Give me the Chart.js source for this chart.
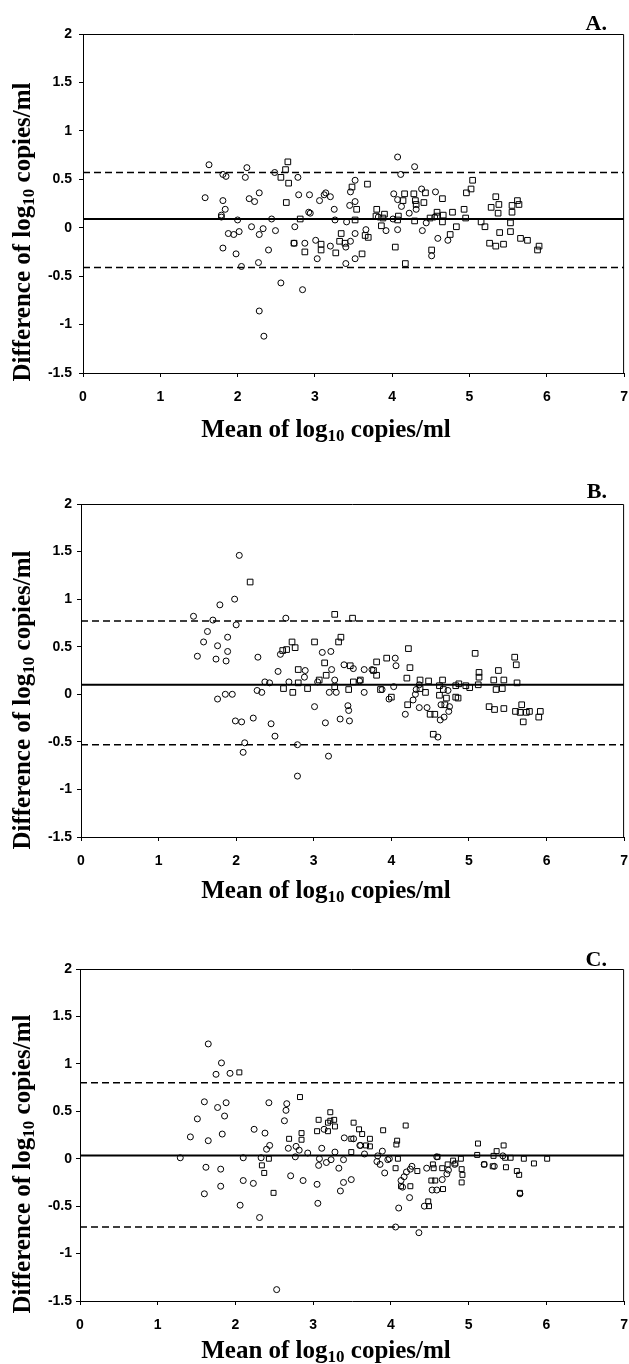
<!DOCTYPE html>
<html>
<head>
<meta charset="utf-8">
<script src="https://cdn.jsdelivr.net/npm/chart.js@4.4.1/dist/chart.umd.min.js"></script>
<style>
  html, body { margin: 0; padding: 0; background: #fff; overflow: hidden; }
  body { width: 629px; height: 1364px; position: relative; }
  canvas { position: absolute; left: 0; }
  .t { position: absolute; font-family: "Liberation Serif", "Times New Roman", serif; font-weight: bold; color: #000; white-space: nowrap; line-height: 1; }
  .xt { font-size: 25px; left: 326px; transform: translateX(-50%); }
  .yt { font-size: 25px; left: 21px; transform: translate(-50%, -50%) rotate(-90deg); }
  .pl { font-size: 22px; right: 22px; }
  sub { font-size: 0.68em; vertical-align: -0.25em; line-height: 0; }
</style>
</head>
<body>
<canvas id="pa"></canvas>
<canvas id="pb"></canvas>
<canvas id="pc"></canvas>

<div class="t pl" style="top:12px">A.</div>
<div class="t pl" style="top:480px">B.</div>
<div class="t pl" style="top:948px">C.</div>

<div class="t yt" style="top:232px">Difference of log<sub>10</sub> copies/ml</div>
<div class="t yt" style="top:700px">Difference of log<sub>10</sub> copies/ml</div>
<div class="t yt" style="top:1164px">Difference of log<sub>10</sub> copies/ml</div>

<div class="t xt" style="top:416px">Mean of log<sub>10</sub> copies/ml</div>
<div class="t xt" style="top:877px">Mean of log<sub>10</sub> copies/ml</div>
<div class="t xt" style="top:1337px">Mean of log<sub>10</sub> copies/ml</div>

<script>
// Tick labels shared by the three Bland-Altman panels.
const xTicks = [0, 1, 2, 3, 4, 5, 6, 7];
const yTicks = [-1.5, -1, -0.5, 0, 0.5, 1, 1.5, 2];

// Panel A: [mean, difference] pairs, circles and squares.
const aCircles = [
  [1.63,0.65],[1.81,0.55],[1.85,0.53],[2.12,0.62],[2.10,0.52],[2.48,0.57],[2.78,0.52],
  [1.58,0.31],[1.81,0.28],[1.84,0.19],[1.79,0.13],[1.79,0.11],[2.15,0.30],[2.22,0.27],[2.28,0.36],
  [2.79,0.34],[2.93,0.34],[2.92,0.16],[2.94,0.15],[3.06,0.28],[3.12,0.34],[3.14,0.36],[3.20,0.32],[3.25,0.19],[3.26,0.08],
  [2.00,0.08],[2.44,0.09],[2.74,0.01],[2.18,0.01],[2.33,-0.01],[2.49,-0.03],[1.88,-0.06],[1.95,-0.07],[2.02,-0.04],[2.28,-0.07],
  [1.81,-0.21],[1.98,-0.27],[2.40,-0.23],[2.05,-0.40],[2.27,-0.36],[2.73,-0.16],[2.87,-0.16],[3.01,-0.13],[3.03,-0.32],[3.20,-0.19],
  [3.40,-0.20],[3.46,-0.14],[3.40,-0.37],[3.52,-0.32],[3.52,-0.06],[3.41,0.06],[3.45,0.23],[3.52,0.27],[3.52,0.49],[3.46,0.37],
  [2.56,-0.57],[2.84,-0.64],[2.28,-0.86],[2.34,-1.12],
  [4.07,0.73],[4.29,0.63],[4.11,0.55],[4.02,0.35],[4.07,0.29],[4.12,0.22],[4.38,0.40],[4.56,0.37],[4.22,0.15],[4.31,0.19],
  [3.82,0.11],[3.92,-0.03],[4.01,0.09],[4.07,-0.02],[4.39,-0.03],[4.44,0.05],[4.55,0.11],[4.72,-0.13],[4.59,-0.11],[4.51,-0.29],[3.66,-0.02]
];
const aSquares = [
  [2.65,0.68],[2.62,0.60],[2.56,0.52],[2.66,0.46],[2.63,0.26],[2.81,0.09],[2.73,-0.16],[2.87,-0.25],[3.08,-0.17],[3.08,-0.23],
  [3.27,-0.26],[3.34,-0.06],[3.32,-0.14],[3.39,-0.16],[3.48,0.42],[3.54,0.19],[3.52,0.08],
  [3.68,0.45],[4.16,0.35],[4.14,0.28],[4.28,0.35],[4.30,0.28],[4.31,0.24],[4.41,0.26],[4.43,0.36],[4.65,0.30],[3.80,0.19],
  [3.79,0.12],[3.88,0.10],[3.90,0.14],[3.86,0.02],[4.08,0.12],[4.07,0.08],[4.29,0.07],[4.49,0.10],[4.58,0.16],[4.58,0.12],
  [4.66,0.13],[4.65,0.06],[4.78,0.16],[4.93,0.19],[4.95,0.10],[4.96,0.36],[5.02,0.40],[5.04,0.49],[4.83,0.01],[4.75,-0.07],
  [4.51,-0.23],[4.04,-0.20],[4.17,-0.37],[3.69,-0.10],[3.61,-0.27],[3.65,-0.08],[5.15,0.06],[5.20,0.01],[5.34,0.32],[5.38,0.24],
  [5.28,0.21],[5.37,0.15],[5.55,0.23],[5.62,0.28],[5.64,0.24],[5.55,0.16],[5.53,0.05],[5.53,-0.04],[5.39,-0.05],[5.26,-0.16],
  [5.34,-0.19],[5.44,-0.17],[5.66,-0.11],[5.75,-0.13],[5.90,-0.19],[5.88,-0.23]
];
const aLimits = [0.57, 0.09, -0.41]; // upper limit, mean difference, lower limit

// Panel B
const bCircles = [
  [2.04,1.46],[1.98,1.00],[1.79,0.94],[1.45,0.82],[1.70,0.78],[2.00,0.73],[2.64,0.80],[1.63,0.66],[1.58,0.55],[1.76,0.51],
  [1.89,0.60],[1.89,0.45],[1.50,0.40],[1.74,0.37],[1.87,0.35],[2.28,0.39],[2.57,0.42],[3.11,0.44],[3.22,0.45],[3.23,0.26],
  [2.89,0.25],[2.88,0.18],[2.54,0.24],[3.39,0.31],[3.51,0.27],[3.27,0.15],[2.37,0.13],[2.43,0.12],[2.68,0.13],[3.05,0.13],
  [3.20,0.02],[3.29,0.02],[1.76,-0.05],[1.86,0.00],[1.95,0.00],[2.27,0.04],[2.33,0.02],[3.01,-0.13],[3.44,-0.12],[3.45,-0.17],
  [1.99,-0.28],[2.07,-0.29],[2.22,-0.25],[2.45,-0.31],[3.15,-0.30],[3.34,-0.26],[3.46,-0.28],[2.50,-0.44],[2.11,-0.51],[2.09,-0.61],
  [2.79,-0.53],[3.19,-0.65],[2.79,-0.86],
  [4.05,0.38],[4.06,0.30],[3.65,0.26],[3.75,0.26],[3.59,0.14],[3.65,0.02],[3.88,0.05],[4.03,0.08],[3.97,-0.05],[4.36,0.10],
  [4.32,0.05],[4.31,0.00],[4.28,-0.06],[4.18,-0.21],[4.36,-0.14],[4.46,-0.14],[4.73,0.04],[4.64,-0.11],[4.75,-0.13],[4.74,-0.18],
  [4.68,-0.24],[4.63,-0.27],[4.60,-0.45]
];
const bSquares = [
  [2.18,1.18],[3.27,0.84],[3.50,0.80],[2.72,0.55],[2.76,0.49],[2.65,0.47],[2.60,0.46],[3.01,0.55],[3.35,0.60],[3.32,0.55],
  [3.14,0.33],[3.16,0.20],[2.80,0.26],[3.47,0.30],[2.80,0.12],[3.07,0.15],[3.51,0.13],[2.61,0.06],[2.73,0.02],[2.92,0.06],
  [3.27,0.08],[3.45,0.05],
  [4.22,0.48],[5.08,0.43],[3.94,0.38],[3.81,0.34],[4.24,0.28],[5.59,0.39],[5.61,0.31],[5.38,0.25],[5.13,0.23],[5.13,0.18],
  [5.12,0.10],[5.32,0.15],[5.45,0.15],[5.35,0.05],[5.43,0.06],[5.62,0.12],[3.77,0.25],[3.81,0.20],[3.60,0.15],[3.86,0.05],
  [4.00,-0.03],[4.20,0.17],[4.37,0.15],[4.48,0.14],[4.37,0.06],[4.44,0.02],[4.21,-0.11],[4.50,-0.21],[4.56,-0.21],[4.66,0.15],
  [4.62,0.09],[4.67,0.05],[4.62,-0.01],[4.71,-0.04],[4.69,-0.11],[4.54,-0.42],[4.83,0.09],[4.87,0.11],[4.96,0.09],[5.01,0.07],
  [4.83,-0.03],[4.86,-0.04],[5.26,-0.13],[5.33,-0.16],[5.45,-0.15],[5.60,-0.18],[5.68,-0.11],[5.66,-0.19],[5.74,-0.19],[5.78,-0.18],
  [5.70,-0.29],[5.90,-0.24],[5.92,-0.18]
];
const bLimits = [0.77, 0.10, -0.53];

// Panel C
const cCircles = [
  [1.65,1.21],[1.82,1.01],[1.75,0.89],[1.93,0.90],[1.60,0.60],[1.77,0.54],[1.88,0.59],[1.51,0.42],[1.86,0.45],[2.43,0.59],
  [2.66,0.58],[2.65,0.51],[2.63,0.40],[3.14,0.31],[1.42,0.23],[1.65,0.19],[1.83,0.26],[2.24,0.31],[2.38,0.27],[2.44,0.14],
  [2.40,0.10],[2.68,0.11],[2.78,0.13],[2.82,0.09],[2.93,0.06],[3.11,0.11],[3.28,0.07],[3.40,0.22],[3.52,0.21],[3.39,-0.01],
  [3.60,0.14],[1.29,0.01],[2.10,0.01],[2.33,0.01],[2.77,0.02],[3.08,0.00],[3.07,-0.07],[3.17,-0.04],[3.23,-0.01],[3.33,-0.10],
  [1.62,-0.09],[1.81,-0.11],[1.81,-0.29],[1.60,-0.37],[2.10,-0.23],[2.23,-0.26],[2.71,-0.18],[2.87,-0.23],[3.05,-0.27],[3.39,-0.25],
  [3.49,-0.22],[3.35,-0.34],[2.06,-0.49],[3.06,-0.47],[2.31,-0.62],[2.53,-1.38],
  [3.89,0.08],[3.66,0.05],[3.61,0.14],[3.83,0.03],[3.96,-0.01],[3.98,0.00],[3.82,-0.03],[3.86,-0.06],[3.92,-0.15],[4.27,-0.08],
  [4.25,-0.11],[4.20,-0.14],[4.17,-0.19],[4.13,-0.23],[4.15,-0.30],[4.24,-0.41],[4.10,-0.52],[4.06,-0.72],[4.36,-0.78],[4.43,-0.50],
  [4.46,-0.10],[4.59,0.02],[4.53,-0.33],[4.59,-0.33],[4.66,-0.22],[4.72,-0.16],[4.74,-0.12],[4.82,-0.06],[5.20,-0.06],[5.33,-0.08],
  [5.44,0.03],[5.66,-0.37]
];
const cSquares = [
  [2.05,0.91],[2.83,0.65],[3.22,0.49],[3.07,0.41],[3.19,0.38],[3.22,0.40],[3.27,0.41],[3.28,0.34],[3.19,0.29],[3.05,0.29],
  [3.52,0.38],[3.59,0.31],[2.85,0.27],[2.69,0.21],[2.85,0.20],[3.49,0.21],[3.49,0.07],[2.43,0.00],[2.34,-0.07],[2.37,-0.15],
  [2.49,-0.36],
  [3.63,0.26],[3.73,0.21],[3.73,0.13],[3.90,0.30],[4.19,0.35],[4.08,0.19],[4.07,0.15],[3.68,0.14],[4.09,0.00],[4.06,-0.10],
  [4.34,-0.13],[4.13,-0.29],[4.25,-0.29],[4.48,-0.45],[4.49,-0.50],[4.54,-0.06],[4.55,-0.10],[4.60,0.02],[4.52,-0.23],[4.57,-0.23],
  [4.67,-0.32],[4.66,-0.10],[4.73,-0.06],[4.80,-0.02],[4.83,-0.05],[4.90,0.00],[4.91,-0.11],[4.92,-0.17],[4.91,-0.25],[5.12,0.16],
  [5.11,0.04],[5.20,-0.06],[5.31,-0.08],[5.32,0.03],[5.36,0.08],[5.45,0.14],[5.47,0.01],[5.54,0.01],[5.48,-0.09],[5.62,-0.13],
  [5.65,-0.17],[5.66,-0.36],[5.71,0.00],[5.84,-0.05],[6.01,0.00]
];
const cLimits = [0.80, 0.035, -0.72];

// Page geometry of each plot frame (pixels).
const GEO = {
  pa: { left: 83, right: 627, top: 34, bottom: 373, sq: 4 },
  pb: { left: 81, right: 627, top: 504, bottom: 837, sq: 4 },
  pc: { left: 80, right: 625, top: 969, bottom: 1301, sq: 3.5 },
};

const TICK_FONT = { family: "'Liberation Sans', Arial, sans-serif", size: 14, weight: 'bold' };
const CANVAS_W = 640, PAD_TOP = 20, AXIS_H = 50;

// Top and right edges of the frame (left/bottom are the axis borders).
const framePlugin = {
  id: 'frame',
  afterDraw(chart) {
    const a = chart.chartArea, c = chart.ctx;
    c.save();
    c.strokeStyle = '#000'; c.lineWidth = 1;
    c.beginPath();
    c.moveTo(a.left, a.top + 0.5); c.lineTo(a.right - 0.5, a.top + 0.5); c.lineTo(a.right - 0.5, a.bottom);
    c.stroke();
    c.restore();
  }
};

function toXY(list) { return list.map(function (p) { return { x: p[0], y: p[1] }; }); }

function hline(y, dash, w) {
  return { data: [{ x: xTicks[0], y: y }, { x: xTicks[xTicks.length - 1], y: y }], showLine: true,
    borderColor: '#000', borderWidth: w, borderDash: dash, pointRadius: 0, fill: false };
}

function makePanel(id, circles, squares, limits) {
  const g = GEO[id];
  const cv = document.getElementById(id);
  const h = PAD_TOP + (g.bottom - g.top) + AXIS_H;
  cv.width = CANVAS_W; cv.height = h;
  cv.style.width = CANVAS_W + 'px'; cv.style.height = h + 'px';
  cv.style.top = (g.top - PAD_TOP) + 'px';

  return new Chart(cv.getContext('2d'), {
    type: 'scatter',
    data: {
      datasets: [
        { data: toXY(circles), pointStyle: 'circle', pointRadius: 3, borderColor: '#000', borderWidth: 1, backgroundColor: 'rgba(0,0,0,0)' },
        { data: toXY(squares), pointStyle: 'rect', pointRadius: g.sq, borderColor: '#000', borderWidth: 1, backgroundColor: 'rgba(0,0,0,0)' },
        hline(limits[0], [7, 4], 1.5),
        hline(limits[1], [], 2),
        hline(limits[2], [7, 4], 1.5),
      ]
    },
    options: {
      responsive: false, maintainAspectRatio: false, animation: false,
      layout: { padding: { top: PAD_TOP, left: 0, bottom: 0, right: CANVAS_W - g.right } },
      plugins: { legend: { display: false }, tooltip: { enabled: false } },
      scales: {
        x: {
          type: 'linear', min: xTicks[0], max: xTicks[xTicks.length - 1],
          afterBuildTicks: function (s) { s.ticks = xTicks.map(function (v) { return { value: v }; }); },
          afterFit: function (s) { s.height = AXIS_H; },
          ticks: { color: '#000', font: TICK_FONT, padding: 12, maxRotation: 0, callback: function (v) { return String(v); } },
          grid: { display: true, drawOnChartArea: false, drawTicks: true, tickLength: 4, color: '#000' },
          border: { display: true, color: '#000', width: 1 }
        },
        y: {
          type: 'linear', min: yTicks[0], max: yTicks[yTicks.length - 1],
          afterBuildTicks: function (s) { s.ticks = yTicks.map(function (v) { return { value: v }; }); },
          afterFit: function (s) { s.width = g.left; },
          ticks: { color: '#000', font: TICK_FONT, padding: g.left - 76, callback: function (v) { return String(v); } },
          grid: { display: true, drawOnChartArea: false, drawTicks: true, tickLength: 4, color: '#000' },
          border: { display: true, color: '#000', width: 1 }
        }
      }
    },
    plugins: [framePlugin]
  });
}

makePanel('pa', aCircles, aSquares, aLimits);
makePanel('pb', bCircles, bSquares, bLimits);
makePanel('pc', cCircles, cSquares, cLimits);
</script>
</body>
</html>
